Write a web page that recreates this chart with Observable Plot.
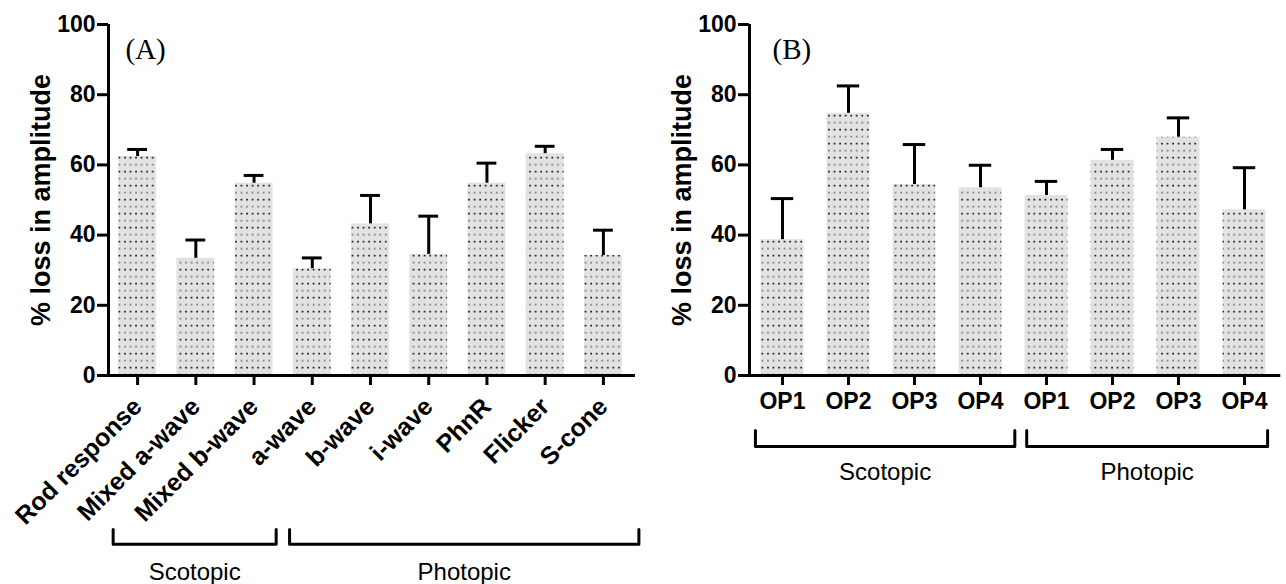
<!DOCTYPE html>
<html><head><meta charset="utf-8">
<script src="https://cdn.jsdelivr.net/npm/d3@7"></script>
<script src="https://cdn.jsdelivr.net/npm/@observablehq/plot@0.6"></script>
<style>
body{margin:0;background:#fff;}
#wrap{display:flex;width:1286px;height:584px;}
#wrap svg{display:block;overflow:visible}
</style></head><body>
<svg width="0" height="0" style="position:absolute">
  <defs>
    <pattern id="dots" patternUnits="userSpaceOnUse" width="5.55" height="14">
      <rect width="5.55" height="14" fill="#e2e2e2"></rect>
      <rect x="2.0" y="2.8" width="1.7" height="1.7" fill="#1a1a1a"></rect>
      <rect x="1.9" y="9.7" width="1.9" height="1.9" fill="#8e8e8e"></rect>
    </pattern>
  </defs>
</svg>
<div id="wrap"></div>
<script>
// ---- data ----
const catsA = ["Rod response", "Mixed a-wave", "Mixed b-wave", "a-wave", "b-wave", "i-wave", "PhnR", "Flicker", "S-cone"];
const valsA = [62.4, 33.4, 54.8, 30.4, 43.2, 34.5, 54.8, 63.2, 34.2];
const errA  = [2.0, 5.2, 2.2, 3.1, 8.1, 10.9, 5.7, 2.1, 7.2];

const catsB = ["OP1", "OP2", "OP3", "OP4", "OP1", "OP2", "OP3", "OP4"];
const valsB = [38.7, 74.7, 54.4, 53.5, 51.3, 61.3, 67.9, 47.2];
const errB  = [11.7, 7.8, 11.4, 6.4, 4.0, 3.1, 5.5, 12.0];

const groupsA = [{name: "Scotopic", first: 0, last: 2}, {name: "Photopic", first: 3, last: 8}];
const groupsB = [{name: "Scotopic", first: 0, last: 3}, {name: "Photopic", first: 4, last: 7}];

const yTicks = [0, 20, 40, 60, 80, 100];
const yLabel = "% loss in amplitude";

function panel(o) {
  const n = o.cats.length;
  const data = o.cats.map((c, i) => ({i, c, v: o.vals[i], top: o.vals[i] + o.errs[i]}));
  const br = o.groups.map((g, k) => ({name: g.name, x1: g.first + o.brOff[k][0], x2: g.last + o.brOff[k][1]}));
  const pts = br.flatMap(g => [
    {g: g.name, x: g.x1, y: o.brY[0]}, {g: g.name, x: g.x1, y: o.brY[1]},
    {g: g.name, x: g.x2, y: o.brY[1]}, {g: g.name, x: g.x2, y: o.brY[0]}
  ]);
  return Plot.plot({
    width: 643, height: 584,
    marginTop: 24, marginBottom: 209, marginLeft: o.ml, marginRight: o.mr,
    style: {fontFamily: "'Liberation Sans', Arial, sans-serif", color: "#000", background: "transparent"},
    x: {domain: [-0.5, n - 0.5]},
    y: {domain: [0, 100]},
    marks: [
      Plot.rectY(data, {x1: d => d.i - 0.325, x2: d => d.i + 0.325, y: "v", fill: "url(#dots)"}),
      Plot.ruleX(data, {x: "i", y1: "v", y2: "top", stroke: "#000", strokeWidth: 3}),
      Plot.ruleY(data, {y: "top", x1: d => d.i - 0.17, x2: d => d.i + 0.17, stroke: "#000", strokeWidth: 3}),
      Plot.axisY({ticks: yTicks, tickSize: 11, tickPadding: 2, strokeWidth: 3, fontSize: 23, fontWeight: "bold", label: null}),
      Plot.axisX({ticks: d3.range(n), tickFormat: i => o.cats[i], tickSize: 10, tickPadding: o.tp,
                  strokeWidth: 3, fontSize: o.fs, fontWeight: o.fw, tickRotate: o.rot, label: null}),
      Plot.ruleX([-0.5], {y1: () => 0, y2: () => 100, stroke: "#000", strokeWidth: 3}),
      Plot.ruleY([0], {x1: () => -0.5, x2: () => n - 0.45, stroke: "#000", strokeWidth: 3}),
      Plot.line(pts, {x: "x", y: "y", z: "g", stroke: "#000", strokeWidth: 3}),
      Plot.text(br, {x: d => (d.x1 + d.x2) / 2, y: () => o.labY, text: "name", fontSize: 24}),
      Plot.text([yLabel], {frameAnchor: "left", textAnchor: "middle", dx: -67, rotate: -90, fontSize: 27, fontWeight: "bold"}),
      Plot.text([o.tag], {frameAnchor: "top-left", dx: o.tagDx, dy: 25, lineAnchor: "middle",
                          fontFamily: "'Liberation Serif', 'Times New Roman', serif", fontSize: 29})
    ]
  });
}

const wrap = document.getElementById("wrap");
wrap.append(panel({
  cats: catsA, vals: valsA, errs: errA, groups: groupsA, tag: "(A)", tagDx: 17,
  ml: 108, mr: 11, fs: 25, fw: "bold", rot: -45, tp: 17,
  brOff: [[-0.42, 0.38], [-0.39, 0.61]], brY: [-43.9, -48.1], labY: -56
}));
wrap.append(panel({
  cats: catsB, vals: valsB, errs: errB, groups: groupsB, tag: "(B)", tagDx: 23,
  ml: 106, mr: 9, fs: 23, fw: "bold", rot: 0, tp: 7,
  brOff: [[-0.41, 0.52], [-0.30, 0.35]], brY: [-15.7, -20.2], labY: -27.5
}));
</script>
</body></html>
